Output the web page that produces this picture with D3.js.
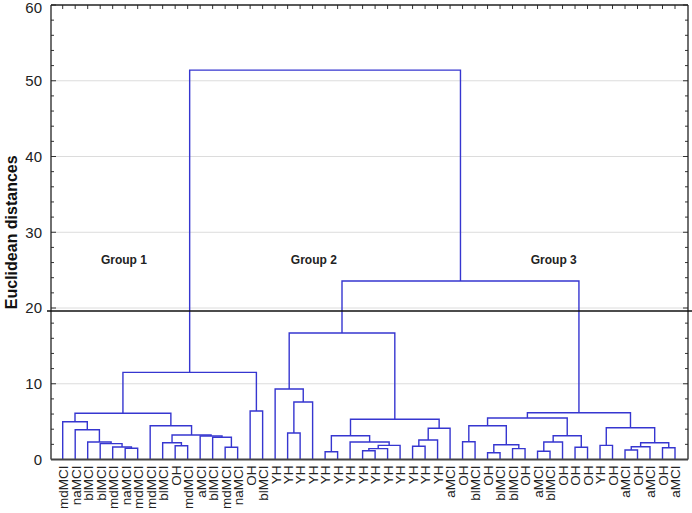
<!DOCTYPE html>
<html><head><meta charset="utf-8">
<script src="https://cdn.jsdelivr.net/npm/d3@7/dist/d3.min.js"></script>
<style>body{margin:0;background:#fff}svg{display:block}</style>
</head><body><svg id="c" width="692" height="513"></svg>
<script>
const leafLabels = ["mdMCI","naMCI","blMCI","blMCI","mdMCI","naMCI","mdMCI","mdMCI","blMCI","OH",
  "mdMCI","aMCI","blMCI","mdMCI","naMCI","OH","blMCI",
  "YH","YH","YH","YH","YH","YH","YH","YH","YH","YH","YH","YH","YH","YH",
  "aMCI","OH","blMCI","OH","blMCI","blMCI","OH","aMCI","blMCI","OH","OH","OH","YH","OH","aMCI","OH","aMCI","OH","aMCI"];
// linkage: [left id, right id, height]; leaves are 0..49, merge k gets id 50+k
const merges = [
  [5,6,1.48],[4,50,1.65],[3,51,2.09],[2,52,2.31],[1,53,3.93],[0,54,4.99],
  [9,10,1.82],[8,56,2.22],[13,14,1.61],[12,58,2.93],[11,59,3.1],[57,60,3.23],[7,61,4.46],
  [55,62,6.1],[15,16,6.4],[63,64,11.5],
  [18,19,3.5],[66,20,7.59],[17,67,9.3],
  [21,22,1.03],[24,25,1.16],[70,26,1.43],[71,27,1.87],[23,72,2.31],[69,73,3.14],
  [28,29,1.74],[75,30,2.57],[76,31,4.12],[74,77,5.31],[68,78,16.7],
  [32,33,2.35],[34,35,0.9],[36,37,1.43],[81,82,1.95],[80,83,4.46],
  [38,39,1.08],[85,40,2.31],[41,42,1.61],[86,87,3.14],[84,88,5.48],
  [43,44,1.87],[45,46,1.25],[91,47,1.69],[48,49,1.56],[92,93,2.22],[90,94,4.2],
  [89,95,6.18],[79,96,23.56],[65,97,51.4]
];
const yTicks = [0,10,20,30,40,50,60];
const cutHeight = 19.6;
const groupNames = ["Group 1","Group 2","Group 3"];
const groupAt = [4.9, 20.1, 39.3];   // in leaf-index units
const groupLevel = 26.3;             // in distance units
const yTitle = "Euclidean distances";

const svg = d3.select("#c");
const L = 51, R = 688, T = 5, B = 459.5;
const x = d3.scaleLinear().domain([0, leafLabels.length - 1]).range([62.7, 675]);
const y = d3.scaleLinear().domain([0, 60]).range([B, T]);

// grid
svg.append("g").selectAll("line").data(yTicks.filter(t => t > 0 && t < 60)).join("line")
  .attr("x1", L).attr("x2", R).attr("y1", d => y(d)).attr("y2", d => y(d))
  .attr("stroke", "#dcdcdc").attr("stroke-width", 1);

// node positions
const pos = {};
leafLabels.forEach((l, i) => pos[i] = {x: x(i), h: 0});
const links = [];
merges.forEach((m, k) => {
  const a = pos[m[0]], b = pos[m[1]];
  links.push({a, b, h: m[2]});
  pos[leafLabels.length + k] = {x: (a.x + b.x) / 2, h: m[2]};
});
svg.append("g").selectAll("path").data(links).join("path")
  .attr("d", d => `M${d.a.x},${y(d.a.h)}V${y(d.h)}H${d.b.x}V${y(d.b.h)}`)
  .attr("fill", "none").attr("stroke", "#3636d0").attr("stroke-width", 1.4);

// left axis
const minor = d3.range(0, 61, 2);
const ax = svg.append("g").attr("transform", `translate(${L},0)`)
  .call(d3.axisLeft(y).tickValues(yTicks).tickSize(0).tickPadding(9));
ax.select(".domain").remove();
ax.selectAll("text").attr("font-family", "Liberation Sans, Arial, sans-serif").attr("font-size", 15).attr("fill", "#222")
  .attr("dy", d => d === 60 ? "0.5em" : "0.32em");
svg.append("g").selectAll("line").data(minor).join("line")
  .attr("x1", L).attr("x2", d => L + (d % 10 === 0 ? 5 : 3)).attr("y1", d => y(d)).attr("y2", d => y(d))
  .attr("stroke", "#333");
svg.append("g").selectAll("line").data(minor).join("line")
  .attr("x1", R).attr("x2", d => R - (d % 10 === 0 ? 5 : 3)).attr("y1", d => y(d)).attr("y2", d => y(d))
  .attr("stroke", "#333");
// top ticks
svg.append("g").selectAll("line").data(d3.range(leafLabels.length)).join("line")
  .attr("x1", d => x(d)).attr("x2", d => x(d)).attr("y1", T).attr("y2", T + 4).attr("stroke", "#333");

// frame
svg.append("line").attr("x1", L).attr("x2", L).attr("y1", T).attr("y2", B).attr("stroke", "#222").attr("stroke-width", 1.3);
svg.append("line").attr("x1", R).attr("x2", R).attr("y1", T).attr("y2", B).attr("stroke", "#222").attr("stroke-width", 1.3);
svg.append("line").attr("x1", L).attr("x2", R).attr("y1", T).attr("y2", T).attr("stroke", "#222").attr("stroke-width", 1.3);
svg.append("line").attr("x1", L).attr("x2", R).attr("y1", B).attr("y2", B).attr("stroke", "#444").attr("stroke-width", 1.8);

// bottom leaf labels
const bx = svg.append("g").attr("transform", `translate(0,${B})`)
  .call(d3.axisBottom(x).tickValues(d3.range(leafLabels.length)).tickFormat(i => leafLabels[i]).tickSize(0).tickPadding(6));
bx.select(".domain").remove();
bx.selectAll("text")
  .attr("font-family", "Liberation Sans, Arial, sans-serif").attr("font-size", 13.5).attr("fill", "#222")
  .attr("transform", "rotate(-90)").attr("text-anchor", "end")
  .attr("x", -6).attr("y", 0).attr("dy", "0.36em");

// cut line
svg.append("line").attr("x1", 47).attr("x2", 692).attr("y1", y(cutHeight)).attr("y2", y(cutHeight))
  .attr("stroke", "#111").attr("stroke-width", 1.6);

// group labels
svg.append("g").selectAll("text").data(groupNames).join("text")
  .attr("x", (d, i) => x(groupAt[i])).attr("y", y(groupLevel))
  .attr("text-anchor", "middle").attr("dy", "0.35em")
  .attr("font-family", "Liberation Sans, Arial, sans-serif").attr("font-weight", "bold").attr("font-size", 12)
  .attr("fill", "#222").text(d => d);

// y title
svg.append("text").attr("transform", `translate(17,${(T + B) / 2}) rotate(-90)`)
  .attr("text-anchor", "middle")
  .attr("font-family", "Liberation Sans, Arial, sans-serif").attr("font-weight", "bold").attr("font-size", 16)
  .attr("fill", "#111").text(yTitle);
</script></body></html>
